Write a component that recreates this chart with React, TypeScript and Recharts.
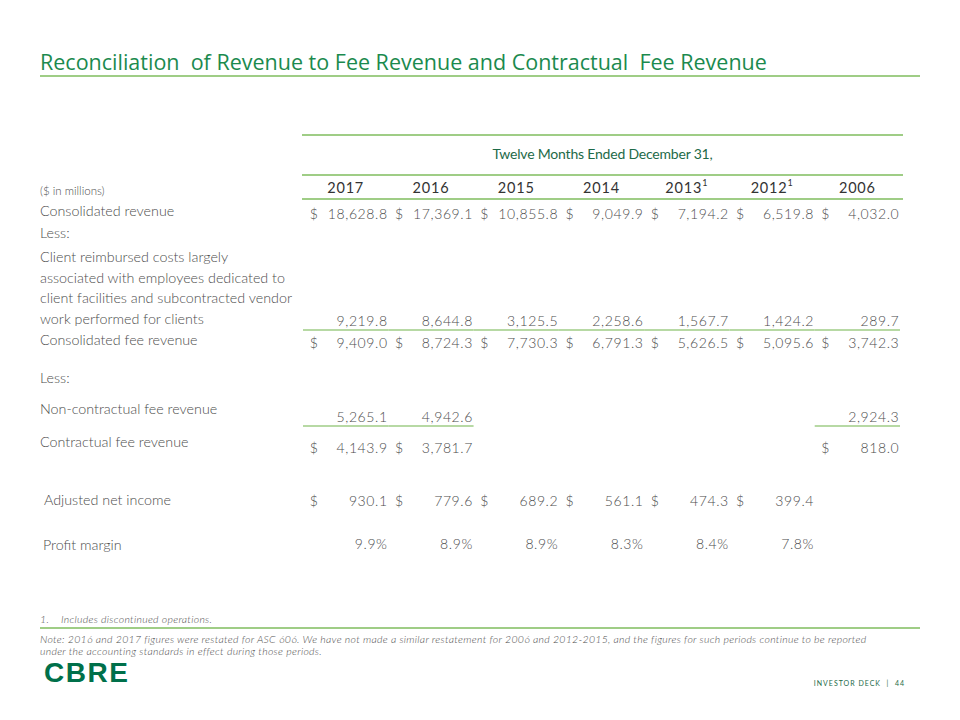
import React from 'react';
import { ScatterChart, Scatter, XAxis, YAxis } from 'recharts';

const YEARS = ['2017', '2016', '2015', '2014', '2013', '2012', '2006'];
const YEAR_NOTES = ['', '', '', '', '1', '1', ''];

const CONSOLIDATED_REVENUE = [18628.8, 17369.1, 10855.8, 9049.9, 7194.2, 6519.8, 4032.0];
const REIMBURSED_COSTS = [9219.8, 8644.8, 3125.5, 2258.6, 1567.7, 1424.2, 289.7];
const CONSOLIDATED_FEE_REVENUE = [9409.0, 8724.3, 7730.3, 6791.3, 5626.5, 5095.6, 3742.3];
const NON_CONTRACTUAL_FEE = [5265.1, 4942.6, null, null, null, null, 2924.3];
const CONTRACTUAL_FEE = [4143.9, 3781.7, null, null, null, null, 818.0];
const ADJUSTED_NET_INCOME = [930.1, 779.6, 689.2, 561.1, 474.3, 399.4, null];
const PROFIT_MARGIN = [9.9, 8.9, 8.9, 8.3, 8.4, 7.8, null];

const CLIENT_LABEL = [
  'Client reimbursed costs largely',
  'associated with employees dedicated to',
  'client facilities and subcontracted vendor',
  'work performed for clients',
];

const GREEN = '#1b8a4e';
const DARK_GREEN = '#1d6a48';
const LINE = '#9fcd86';
const TEXT = '#4d4d4d';
const FONT = 'Lato, "Open Sans", sans-serif';

const TABLE_LEFT = 303;
const TABLE_W = 597;
const BAND = TABLE_W / YEARS.length;

const fmt = (v: number, kind: string) => {
  const s = v.toLocaleString('en-US', { minimumFractionDigits: 1, maximumFractionDigits: 1 });
  return kind === 'pct' ? s + '%' : s;
};

type RowProps = {
  values: (number | null)[];
  top: number;
  kind?: 'dollar' | 'plain' | 'pct';
  underline?: boolean;
};

function ValueRow({ values, top, kind = 'plain', underline = false }: RowProps) {
  const data = YEARS.map((year, i) => ({ year, y: 0, value: values[i] }));
  const shape = (p: any) => {
    const { cx, cy, payload } = p;
    if (payload.value === null || payload.value === undefined) return <g />;
    return (
      <g>
        {kind === 'dollar' && (
          <text x={cx - 36} y={cy} dominantBaseline="central" fontSize={14} fill={TEXT} fontFamily={FONT} fontWeight={300}>
            $
          </text>
        )}
        <text x={cx + 42} y={cy} dominantBaseline="central" textAnchor="end" fontSize={14} fill={TEXT} fontFamily={FONT} fontWeight={300} letterSpacing={0.6}>
          {fmt(payload.value, kind)}
        </text>
        {underline && (
          <line x1={cx - BAND / 2} x2={cx + BAND / 2} y1={cy + 10} y2={cy + 10} stroke={LINE} strokeWidth={1.5} />
        )}
      </g>
    );
  };
  return (
    <div style={{ position: 'absolute', left: TABLE_LEFT, top: top - 14 }}>
      <ScatterChart width={TABLE_W} height={28} margin={{ top: 0, right: 0, bottom: 0, left: 0 }}>
        <XAxis type="category" dataKey="year" hide allowDuplicatedCategory={false} />
        <YAxis type="number" dataKey="y" domain={[-1, 1]} hide />
        <Scatter data={data} isAnimationActive={false} shape={shape} />
      </ScatterChart>
    </div>
  );
}

function HeaderRow({ top }: { top: number }) {
  const data = YEARS.map((year, i) => ({ year, y: 0, note: YEAR_NOTES[i] }));
  const shape = (p: any) => {
    const { cx, cy, payload } = p;
    return (
      <text x={cx} y={cy} dominantBaseline="central" textAnchor="middle" fontSize={14.5} fill="#333" fontFamily={FONT} letterSpacing={0.8}>
        {payload.year}
        {payload.note && (
          <tspan fontSize={9} dy={-5}>
            {payload.note}
          </tspan>
        )}
      </text>
    );
  };
  return (
    <div style={{ position: 'absolute', left: TABLE_LEFT, top: top - 14 }}>
      <ScatterChart width={TABLE_W} height={28} margin={{ top: 0, right: 0, bottom: 0, left: 0 }}>
        <XAxis type="category" dataKey="year" hide allowDuplicatedCategory={false} />
        <YAxis type="number" dataKey="y" domain={[-1, 1]} hide />
        <Scatter data={data} isAnimationActive={false} shape={shape} />
      </ScatterChart>
    </div>
  );
}

function Label({ x, y, size = 14.3, children, style }: any) {
  return (
    <div
      style={{
        position: 'absolute',
        left: x,
        top: y,
        transform: 'translateY(-50%)',
        fontSize: size,
        lineHeight: 1,
        color: TEXT,
        fontFamily: FONT,
        fontWeight: 300,
        whiteSpace: 'pre',
        ...style,
      }}
    >
      {children}
    </div>
  );
}

function HLine({ x1, x2, y, color = LINE, w = 1.5 }: any) {
  return <div style={{ position: 'absolute', left: x1, top: y - w / 2, width: x2 - x1, height: w, background: color }} />;
}

const NOTE_STYLE = { fontStyle: 'italic', letterSpacing: 0.3 };

export default function App() {
  return (
    <div style={{ position: 'absolute', left: 0, top: 0, width: 960, height: 720, background: '#fff', overflow: 'hidden' }}>
      <div
        style={{
          position: 'absolute',
          left: 40,
          top: 62,
          transform: 'translateY(-50%)',
          fontFamily: '"Open Sans", sans-serif',
          fontSize: 21.5,
          lineHeight: 1.1,
          color: GREEN,
          whiteSpace: 'pre',
        }}
      >
        {'Reconciliation  of Revenue to Fee Revenue and Contractual  Fee Revenue'}
      </div>
      <HLine x1={40} x2={920} y={76} w={1.2} />

      <HLine x1={302} x2={903} y={135} />
      <div
        style={{
          position: 'absolute',
          left: 302,
          width: 601,
          top: 153,
          transform: 'translateY(-50%)',
          textAlign: 'center',
          fontFamily: FONT,
          fontSize: 14,
          color: DARK_GREEN,
          letterSpacing: -0.2,
        }}
      >
        Twelve Months Ended December 31,
      </div>
      <HLine x1={302} x2={903} y={175} />
      <HeaderRow top={187} />
      <HLine x1={302} x2={903} y={199} />

      <Label x={40} y={191} size={11.5}>($ in millions)</Label>
      <Label x={40} y={211}>Consolidated revenue</Label>
      <ValueRow values={CONSOLIDATED_REVENUE} top={213} kind="dollar" />
      <Label x={40} y={233}>Less:</Label>
      {CLIENT_LABEL.map((t, i) => (
        <Label key={t} x={40} y={257 + i * 20.5}>
          {t}
        </Label>
      ))}
      <ValueRow values={REIMBURSED_COSTS} top={320} underline />
      <Label x={40} y={340}>Consolidated fee revenue</Label>
      <ValueRow values={CONSOLIDATED_FEE_REVENUE} top={342} kind="dollar" />
      <Label x={40} y={378}>Less:</Label>
      <Label x={40} y={409}>Non-contractual fee revenue</Label>
      <ValueRow values={NON_CONTRACTUAL_FEE} top={416} underline />
      <Label x={40} y={442}>Contractual fee revenue</Label>
      <ValueRow values={CONTRACTUAL_FEE} top={447} kind="dollar" />
      <Label x={44} y={500}>Adjusted net income</Label>
      <ValueRow values={ADJUSTED_NET_INCOME} top={500} kind="dollar" />
      <Label x={43} y={545}>Profit margin</Label>
      <ValueRow values={PROFIT_MARGIN} top={543} kind="pct" />

      <Label x={40} y={619} size={10.5} style={NOTE_STYLE}>
        {'1.    Includes discontinued operations.'}
      </Label>
      <HLine x1={40} x2={920} y={628} w={1.2} />
      <Label x={40} y={639} size={10.5} style={NOTE_STYLE}>
        Note: 2016 and 2017 figures were restated for ASC 606. We have not made a similar restatement for 2006 and 2012-2015, and the figures for such periods continue to be reported
      </Label>
      <Label x={40} y={651} size={10.5} style={NOTE_STYLE}>
        under the accounting standards in effect during those periods.
      </Label>

      <div
        style={{
          position: 'absolute',
          left: 44,
          top: 673,
          transform: 'translateY(-50%)',
          fontFamily: '"Liberation Sans", Arial, sans-serif',
          fontWeight: 700,
          fontSize: 28,
          lineHeight: 1,
          color: '#00704a',
          letterSpacing: 1.5,
        }}
      >
        CBRE
      </div>
      <div
        style={{
          position: 'absolute',
          right: 55,
          top: 683,
          transform: 'translateY(-50%)',
          fontFamily: FONT,
          fontSize: 7,
          color: DARK_GREEN,
          letterSpacing: 1,
          whiteSpace: 'pre',
        }}
      >
        {'INVESTOR DECK  |  44'}
      </div>
    </div>
  );
}
